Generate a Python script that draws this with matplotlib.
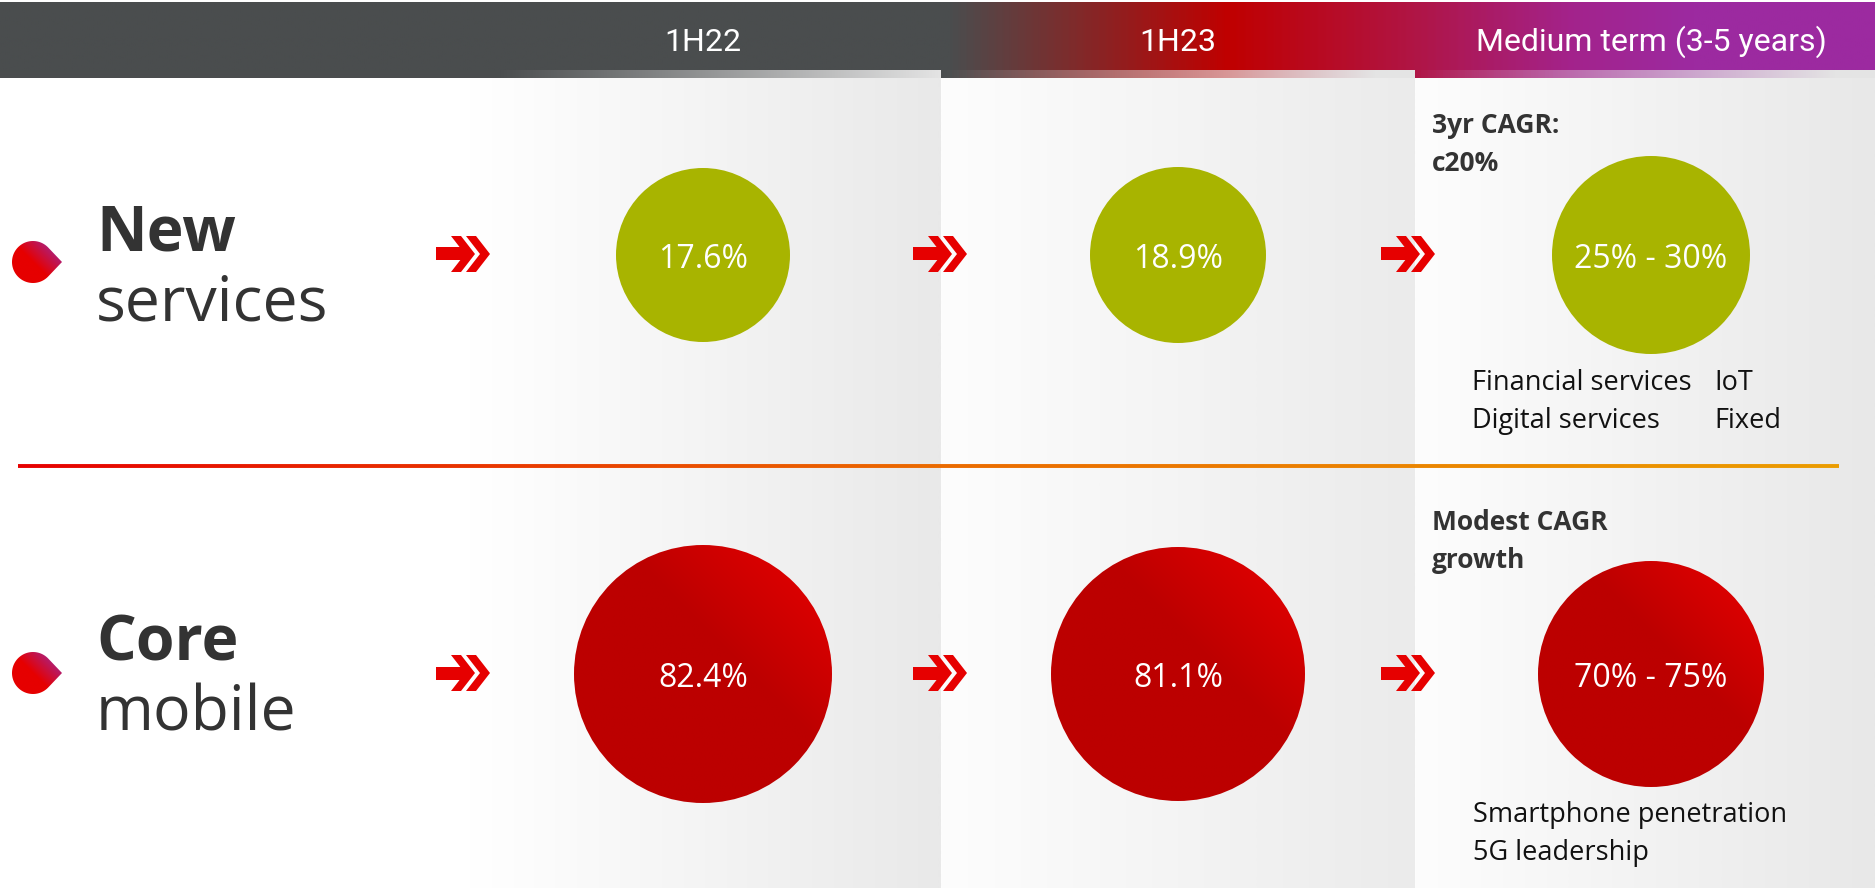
import numpy as np
import matplotlib
matplotlib.use('Agg')
import matplotlib.pyplot as plt
from matplotlib.patches import Circle, Polygon
from matplotlib.colors import LinearSegmentedColormap, to_rgb
from matplotlib.collections import LineCollection

# ---- data ----
periods = ['1H22', '1H23', 'Medium term (3-5 years)']
row_titles = ['New', 'Core']
row_subtitles = ['services', 'mobile']
new_services = ['17.6%', '18.9%', '25% - 30%']
core_mobile = ['82.4%', '81.1%', '70% - 75%']
outlook_notes = [['3yr CAGR:', 'c20%'], ['Modest CAGR', 'growth']]
new_drivers_a = ['Financial services', 'Digital services']
new_drivers_b = ['IoT', 'Fixed']
core_drivers = ['Smartphone penetration', '5G leadership']

# ---- layout (pixels) ----
W, H = 1875, 888
panel_edges = [0, 941, 1415, 1875]
col_x = [703, 1178, 1651]
row_y = [255, 674]
radii = [[87, 88, 99], [129, 127, 113]]
arrow_x = [436, 913, 1381]
HEAD_BOT = 70
STRIP = 8

GREEN = '#a8b400'
RED = '#e60000'
DARK = '#333333'

fig = plt.figure(figsize=(W / 100, H / 100), dpi=100)
ax = fig.add_axes([0, 0, 1, 1])
ax.axis('off')


def cmap_from(stops):
    return LinearSegmentedColormap.from_list('g', stops)


def hgrad(x0, x1, y0, y1, stops, z):
    img = cmap_from(stops)(np.linspace(0, 1, 512))[None, :, :]
    ax.imshow(img, extent=[x0, x1, y1, y0], origin='upper', aspect='auto',
              zorder=z, interpolation='bilinear')


# panels
hgrad(0, 941, HEAD_BOT, H, [(0, '#ffffff'), (0.5, '#ffffff'), (1, '#e9e9e9')], 0)
hgrad(941, 1415, HEAD_BOT, H, [(0, '#fdfdfd'), (1, '#ebebeb')], 0)
hgrad(1415, 1875, HEAD_BOT, H, [(0, '#fdfdfd'), (1, '#e8e8e8')], 0)

# header bar
head_stops = [(0, '#4a4d4e'), (950 / W, '#4a4d4e'), (1230 / W, '#c00000'),
              (1416 / W, '#b01545'), (1575 / W, '#a3238c'), (1693 / W, '#9c2aa0'),
              (1, '#9c2aa0')]
hgrad(0, W, 2, HEAD_BOT, head_stops, 1)

# fading strip under the header
xs = np.arange(W) + 0.5
head_cm = cmap_from(head_stops)
hc = head_cm(xs / W)[:, :3]
wgt = np.zeros(W)
pc = np.ones((W, 3))
for i, (a, b) in enumerate(zip(panel_edges[:-1], panel_edges[1:])):
    m = (xs >= a) & (xs < b)
    if i == 0:
        wgt[m] = np.clip((b - xs[m]) / (b - 498), 0, 1)
    else:
        wgt[m] = np.clip((b - 40 - xs[m]) / (b - 40 - a), 0, 1)
    pc[m] = to_rgb('#e4e4e4')
strip = wgt[:, None] * hc + (1 - wgt[:, None]) * pc
ax.imshow(strip[None, :, :], extent=[0, W, HEAD_BOT + STRIP, HEAD_BOT], origin='upper',
          aspect='auto', zorder=1, interpolation='bilinear')

for x, lab in zip(col_x, periods):
    ax.text(x, 51, lab, color='white', fontsize=23, family=['Roboto', 'DejaVu Sans'],
            ha='center', va='baseline', zorder=5)

# separator line
lx = np.linspace(18, 1839, 400)
segs = [[(lx[i], 466), (lx[i + 1], 466)] for i in range(len(lx) - 1)]
line_cm = cmap_from([(0, '#e60000'), (0.5, '#eb6a00'), (1, '#eb9c00')])
ax.add_collection(LineCollection(segs, colors=line_cm(np.linspace(0, 1, len(segs))),
                                 linewidths=2.8, zorder=3, capstyle='butt'))


def grad_disc(patch, cx, cy, r, c_hi, c_lo, u_lo, z):
    # diagonal gradient: bright at top-right, darker towards bottom-left
    n = 200
    gx, gy = np.meshgrid(np.linspace(-1, 1, n), np.linspace(-1, 1, n))
    u = (-gx + gy) / np.sqrt(2)
    t = np.clip((u + 1) / (u_lo + 1), 0, 1)
    img = cmap_from([c_hi, c_lo])(t)
    im = ax.imshow(img, extent=[cx - r, cx + r, cy + r, cy - r], origin='upper',
                   aspect='auto', zorder=z, interpolation='bilinear')
    ax.add_patch(patch)
    patch.set_visible(False)
    im.set_clip_path(patch)


# circles
font = ['Open Sans', 'DejaVu Sans']
for j in range(3):
    cx, cy = col_x[j], row_y[0]
    ax.add_patch(Circle((cx, cy), radii[0][j], color=GREEN, zorder=4, lw=0))
    ax.text(cx, cy + 12.5, new_services[j], color='white', fontsize=23, family=font,
            ha='center', va='baseline', zorder=5)
    cy = row_y[1]
    r = radii[1][j]
    grad_disc(Circle((cx, cy), r), cx, cy, r, '#da0000', '#bc0000', -0.25, 4)
    ax.text(cx, cy + 12.5, core_mobile[j], color='white', fontsize=23, family=font,
            ha='center', va='baseline', zorder=5)


def chevrons(x, y):
    h, t, d = 18, 10, 14
    bar = [(x, y - 6.5), (x + 29, y - 6.5), (x + 29, y + 6.5), (x, y + 6.5)]
    ax.add_patch(Polygon(bar, closed=True, color=RED, lw=0, zorder=6))
    for x0 in (x + 15, x + 30):
        pts = [(x0, y - h), (x0 + t, y - h), (x0 + t + d, y), (x0 + t, y + h),
               (x0, y + h), (x0 + d, y)]
        ax.add_patch(Polygon(pts, closed=True, color=RED, lw=0, zorder=6))


for y in row_y:
    for x in arrow_x:
        chevrons(x, y - 1)


def drop(cx, cy, r=21, d=29):
    a = np.arccos(r / d)
    th = np.linspace(a, 2 * np.pi - a, 80)
    pts = [(cx + d, cy)] + [(cx + r * np.cos(v), cy - r * np.sin(v)) for v in th]
    grad_disc(Polygon(pts, closed=True), cx + 4, cy, d, '#9c2aa0', '#e60000', 0.1, 6)


for y in [262, 673]:
    drop(33, y)

# row labels
for k in range(2):
    base = [250, 660][k]
    ax.text(96, base, row_titles[k], color=DARK, fontsize=45, fontweight='bold',
            family=font, ha='left', va='baseline', zorder=5)
    ax.text(96, base + 70, row_subtitles[k], color=DARK, fontsize=45, family=font,
            ha='left', va='baseline', zorder=5)

# outlook notes
for k, base in enumerate([133, 530]):
    for i, s in enumerate(outlook_notes[k]):
        ax.text(1432, base + 38 * i, s, color=DARK, fontsize=19, fontweight='bold',
                family=font, ha='left', va='baseline', zorder=5)

for i in range(2):
    ax.text(1472, 390 + 38 * i, new_drivers_a[i], color='#111111', fontsize=19.5,
            family=font, ha='left', va='baseline', zorder=5)
    ax.text(1714, 390 + 38 * i, new_drivers_b[i], color='#111111', fontsize=19.5,
            family=font, ha='left', va='baseline', zorder=5)
    ax.text(1473, 822 + 38 * i, core_drivers[i], color='#111111', fontsize=19.5,
            family=font, ha='left', va='baseline', zorder=5)

ax.set_xlim(0, W)
ax.set_ylim(H, 0)
fig.savefig('out.png', dpi=100, facecolor='white')
